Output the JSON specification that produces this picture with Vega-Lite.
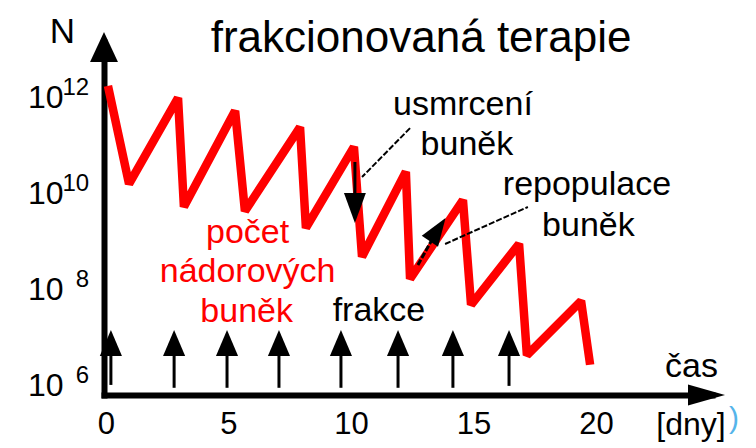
{
  "$schema": "https://vega.github.io/schema/vega-lite/v6.json",
  "width": 608,
  "height": 353,
  "autosize": "none",
  "padding": {"left": 104, "top": 42, "right": 44, "bottom": 53},
  "background": "white",
  "config": {"view": {"stroke": null}, "font": "Liberation Sans"},
  "datasets": {
    "curve": [
      {"day": 0.08, "log10N": 12.19},
      {"day": 0.94, "log10N": 10.15},
      {"day": 2.94, "log10N": 11.94},
      {"day": 3.18, "log10N": 9.67},
      {"day": 5.27, "log10N": 11.67},
      {"day": 5.67, "log10N": 9.58},
      {"day": 7.92, "log10N": 11.33},
      {"day": 8.16, "log10N": 9.23},
      {"day": 10.12, "log10N": 10.92},
      {"day": 10.45, "log10N": 8.63},
      {"day": 12.24, "log10N": 10.40},
      {"day": 12.41, "log10N": 8.17},
      {"day": 14.57, "log10N": 9.81},
      {"day": 14.90, "log10N": 7.63},
      {"day": 16.86, "log10N": 8.90},
      {"day": 17.18, "log10N": 6.58},
      {"day": 19.39, "log10N": 7.71},
      {"day": 19.76, "log10N": 6.38}
    ],
    "fractions": [
      {"day": 0.2, "log10N": 6.833, "log10N2": 5.96},
      {"day": 2.78, "log10N": 6.833, "log10N2": 5.9},
      {"day": 4.94, "log10N": 6.833, "log10N2": 5.9},
      {"day": 7.06, "log10N": 6.833, "log10N2": 5.9},
      {"day": 9.59, "log10N": 6.833, "log10N2": 5.9},
      {"day": 11.92, "log10N": 6.833, "log10N2": 5.9},
      {"day": 14.16, "log10N": 6.833, "log10N2": 5.9},
      {"day": 16.45, "log10N": 6.833, "log10N2": 5.94}
    ],
    "leaders": [
      {"day": 12.41, "log10N": 11.31, "day2": 10.45, "log10N2": 10.29},
      {"day": 13.84, "log10N": 8.896, "day2": 17.22, "log10N2": 9.667}
    ],
    "texts": [
      {"group": "title", "text": "frakcionovaná terapie", "day": 12.86, "log10N": 12.896},
      {"group": "N", "text": "N", "day": -1.78, "log10N": 13.083},
      {"group": "black", "text": "usmrcení", "day": 14.57, "log10N": 11.583},
      {"group": "black", "text": "buněk", "day": 14.73, "log10N": 10.75},
      {"group": "black", "text": "repopulace", "day": 19.63, "log10N": 9.917},
      {"group": "black", "text": "buněk", "day": 19.69, "log10N": 9.0625},
      {"group": "black", "text": "frakce", "day": 11.14, "log10N": 7.29},
      {"group": "black", "text": "čas", "day": 23.9, "log10N": 6.125},
      {"group": "unit", "text": "[dny]", "day": 23.88, "log10N": 4.917},
      {"group": "red", "text": "počet", "day": 5.78, "log10N": 8.917},
      {"group": "red", "text": "nádorových", "day": 5.78, "log10N": 8.104},
      {"group": "red", "text": "buněk", "day": 5.74, "log10N": 7.271},
      {"group": "exp", "text": "12", "day": -0.69, "log10N": 12},
      {"group": "exp", "text": "10", "day": -0.69, "log10N": 10},
      {"group": "exp", "text": "8", "day": -0.69, "log10N": 8},
      {"group": "exp", "text": "6", "day": -0.69, "log10N": 6},
      {"group": "blue", "text": ")", "day": 25.63, "log10N": 5.06}
    ]
  },
  "encoding": {
    "x": {
      "field": "day", "type": "quantitative", "title": null,
      "scale": {"domain": [-0.0816, 24.735], "nice": false, "zero": false},
      "axis": {
        "values": [0, 5, 10, 15, 20], "grid": false, "ticks": false, "tickSize": 0,
        "domainColor": "black", "domainWidth": 6, "domainCap": "square",
        "labelFont": "Liberation Sans", "labelFontSize": 31, "labelColor": "black",
        "labelPadding": 14, "labelFlush": false, "labelOverlap": false, "title": null
      }
    },
    "y": {
      "field": "log10N", "type": "quantitative", "title": null,
      "scale": {"domain": [5.75, 13.104], "nice": false, "zero": false},
      "axis": {
        "values": [6, 8, 10, 12], "labelExpr": "'10'", "grid": false, "ticks": false, "tickSize": 0,
        "domainColor": "black", "domainWidth": 6, "domainCap": "square",
        "labelFont": "Liberation Sans", "labelFontSize": 32, "labelColor": "black",
        "labelPadding": 41, "labelAlign": "right", "labelBaseline": "alphabetic", "labelOffset": 13,
        "labelFlush": false, "labelOverlap": false, "title": null
      }
    }
  },
  "layer": [
    {
      "data": {"name": "curve"},
      "mark": {"type": "line", "color": "#ff0000", "strokeWidth": 8.5, "strokeJoin": "bevel", "strokeCap": "butt"},
      "encoding": {}
    },
    {
      "data": {"name": "fractions"},
      "mark": {"type": "rule", "color": "black", "strokeWidth": 3},
      "encoding": {"y2": {"field": "log10N2"}}
    },
    {
      "data": {"name": "fractions"},
      "mark": {"type": "point", "shape": "M0,-1L0.85,1L-0.85,1Z", "size": 676, "filled": true, "color": "black", "opacity": 1, "strokeWidth": 0},
      "encoding": {}
    },
    {
      "data": {"name": "leaders"},
      "mark": {"type": "rule", "color": "black", "strokeWidth": 2, "strokeDash": [6, 2]},
      "encoding": {"x2": {"field": "day2"}, "y2": {"field": "log10N2"}}
    },
    {
      "data": {"values": [{"day": 10.16, "log10N": 10.604, "day2": 10.16, "log10N2": 9.7}]},
      "mark": {"type": "rule", "color": "black", "strokeWidth": 3},
      "encoding": {"x2": {"field": "day2"}, "y2": {"field": "log10N2"}}
    },
    {
      "data": {"values": [{"day": 10.16, "log10N": 9.646}]},
      "mark": {"type": "point", "shape": "M0,1L0.73,-1L-0.73,-1Z", "size": 900, "filled": true, "color": "black", "opacity": 1, "strokeWidth": 0},
      "encoding": {}
    },
    {
      "data": {"values": [{"day": 12.73, "log10N": 8.458, "day2": 13.39, "log10N2": 9.06}]},
      "mark": {"type": "rule", "color": "black", "strokeWidth": 3, "strokeDash": [6, 2]},
      "encoding": {"x2": {"field": "day2"}, "y2": {"field": "log10N2"}}
    },
    {
      "data": {"values": [{"day": 13.54, "log10N": 9.194}]},
      "mark": {"type": "point", "shape": "M0,-1L0.7,1L-0.7,1Z", "size": 784, "angle": 34, "filled": true, "color": "black", "opacity": 1, "strokeWidth": 0},
      "encoding": {}
    },
    {
      "data": {"values": [{"day": -0.0816, "log10N": 13.0}]},
      "mark": {"type": "point", "shape": "M0,-1L0.93,1L-0.93,1Z", "size": 900, "filled": true, "color": "black", "opacity": 1, "strokeWidth": 0},
      "encoding": {}
    },
    {
      "data": {"values": [{"day": 24.51, "log10N": 5.75}]},
      "mark": {"type": "point", "shape": "M1,0L-1,-0.57L-1,0.57Z", "size": 1369, "filled": true, "color": "black", "opacity": 1, "strokeWidth": 0},
      "encoding": {}
    },
    {
      "data": {"name": "texts"},
      "transform": [{"filter": "datum.group === 'title'"}],
      "mark": {"type": "text", "font": "Liberation Sans", "fontSize": 44, "align": "center", "baseline": "alphabetic", "color": "black"},
      "encoding": {"text": {"field": "text"}}
    },
    {
      "data": {"name": "texts"},
      "transform": [{"filter": "datum.group === 'N'"}],
      "mark": {"type": "text", "font": "Liberation Sans", "fontSize": 35, "align": "center", "baseline": "alphabetic", "color": "black"},
      "encoding": {"text": {"field": "text"}}
    },
    {
      "data": {"name": "texts"},
      "transform": [{"filter": "datum.group === 'black'"}],
      "mark": {"type": "text", "font": "Liberation Sans", "fontSize": 34, "align": "center", "baseline": "alphabetic", "color": "black"},
      "encoding": {"text": {"field": "text"}}
    },
    {
      "data": {"name": "texts"},
      "transform": [{"filter": "datum.group === 'unit'"}],
      "mark": {"type": "text", "font": "Liberation Sans", "fontSize": 32, "align": "center", "baseline": "alphabetic", "color": "black"},
      "encoding": {"text": {"field": "text"}}
    },
    {
      "data": {"name": "texts"},
      "transform": [{"filter": "datum.group === 'red'"}],
      "mark": {"type": "text", "font": "Liberation Sans", "fontSize": 34, "align": "center", "baseline": "alphabetic", "color": "#ff0000"},
      "encoding": {"text": {"field": "text"}}
    },
    {
      "data": {"name": "texts"},
      "transform": [{"filter": "datum.group === 'exp'"}],
      "mark": {"type": "text", "font": "Liberation Sans", "fontSize": 24, "align": "right", "baseline": "alphabetic", "color": "black"},
      "encoding": {"text": {"field": "text"}}
    },
    {
      "data": {"name": "texts"},
      "transform": [{"filter": "datum.group === 'blue'"}],
      "mark": {"type": "text", "font": "Liberation Sans", "fontSize": 30, "align": "center", "baseline": "alphabetic", "color": "#55b4ea"},
      "encoding": {"text": {"field": "text"}}
    }
  ]
}
